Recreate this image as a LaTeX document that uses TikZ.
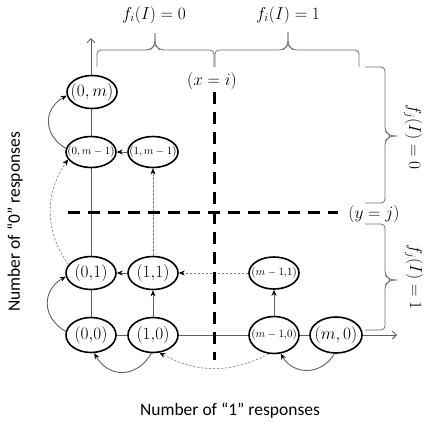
\documentclass[tikz,border=0pt]{standalone}
\usepackage{fontspec}
\newfontfamily\labelfont{Carlito}
\usetikzlibrary{shapes.geometric,arrows.meta,backgrounds}
\definecolor{linegray}{HTML}{5F5F5F}
\definecolor{dashgray}{HTML}{808080}
\definecolor{bracegray}{HTML}{6E6E6E}
\newcommand{\ctr}[1]{\makebox[0pt]{#1}}
\begin{document}
\begin{tikzpicture}[x=1pt,y=-1pt,
  state/.style={ellipse, draw=black, line width=1.6pt, fill=white, inner sep=0pt,
                minimum width=50pt, minimum height=33pt},
  bigtxt/.style={font=\fontsize{16}{18}\selectfont},
  smalltxt/.style={font=\fontsize{11}{13}\selectfont},
  conn/.style={draw=linegray, line width=0.9pt, -{Stealth[length=6pt,width=5pt,color=black]}},
  dconn/.style={draw=dashgray, line width=0.6pt, dash pattern=on 2.5pt off 1.5pt,
                -{Stealth[length=6pt,width=5pt,color=black]}},
  axisline/.style={draw=linegray, line width=0.9pt, -{Straight Barb[length=4pt,width=8pt]}},
  divider/.style={line width=3pt, dash pattern=on 12pt off 8pt},
  bracepath/.style={draw=bracegray, line width=0.8pt, rounded corners=4pt},
  mathlbl/.style={font=\fontsize{18}{20}\selectfont, inner sep=1pt},
  axislbl/.style={font=\labelfont\fontsize{17.5}{20}\selectfont, inner sep=1pt}]
\useasboundingbox (0,0) rectangle (427,426);

% states of the chain
\node[state,bigtxt]   (n0m)  at (92,92)   {\ctr{$(0,m)$}};
\node[state,smalltxt, minimum height=31pt] (n0m1) at (91,152) {\ctr{$(0,m-1)$}};
\node[state,smalltxt, minimum height=31pt] (n1m1) at (153,152) {\ctr{$(1,m-1)$}};
\node[state,bigtxt]   (n01)  at (91,273)  {\ctr{$(0{,}1)$}};
\node[state,bigtxt]   (n11)  at (153,273) {\ctr{$(1{,}1)$}};
\node[state,bigtxt, minimum height=35pt]   (n00)  at (91,335)  {\ctr{$(0{,}0)$}};
\node[state,bigtxt, minimum height=35pt]   (n10)  at (153,335) {\ctr{$(1{,}0)$}};
\node[state,smalltxt, minimum height=32pt] (nm11) at (274,273) {\ctr{$(m-1{,}1)$}};
\node[state,smalltxt, minimum height=37pt] (nm10) at (274,335) {\ctr{$(m-1{,}0)$}};
\node[state,bigtxt, minimum width=52pt, minimum height=36pt] (nm0) at (336,335) {\ctr{$(m,0)$}};

% axes ends
\coordinate (ytop) at (91,38);
\coordinate (xend) at (397,335);

\begin{pgfonlayer}{background}
  \draw[axisline] (n00.center) -- (ytop);
  \draw[axisline] (n00.center) -- (xend);
\end{pgfonlayer}

% transitions
\draw[conn] (n11) -- (n01);
\draw[conn] (n1m1) -- (n0m1);
\draw[conn] (n10) -- (n11);
\draw[conn] (nm10) -- (nm11);
\draw[dconn] (nm11) -- (n11);
\draw[dconn] (n11) -- (n1m1);
\draw[conn] (n00.172) to[bend left=60, looseness=1.3] (n01.188);
\draw[conn] (n0m1.172) to[bend left=60, looseness=1.3] (n0m.188);
\draw[dconn] (n01.160) to[bend left=35] (n0m1.198);
\draw[conn] (n10.265) to[bend left=60, looseness=1.3] (n00.280);
\draw[dconn] (nm10.255) to[bend left=28] (n10.290);
\draw[conn] (nm0.265) to[bend left=60, looseness=1.2] (nm10.290);

% threshold lines
\coordinate (vtop) at (214,92);
\coordinate (vbot) at (214,360);
\coordinate (hleft) at (68,212);
\coordinate (hright) at (338,212);
\draw[divider] (vtop) -- (vbot);
\draw[divider] (hleft) -- (hright);
\node[mathlbl, font=\fontsize{16}{18}\selectfont] (lxi) at (212,81) {$(x=i)$};
\node[mathlbl, font=\fontsize{16}{18}\selectfont] (lyj) at (374,214) {$(y=j)$};

% braces on top
\draw[bracepath] (97,67) -- (97,50) -- (150,50) -- (155,45) -- (155,33);
\draw[bracepath] (155,33) -- (155,45) -- (160,50) -- (214,50) -- (214,67);
\draw[bracepath] (215,67) -- (215,50) -- (283,50) -- (288,45) -- (288,32);
\draw[bracepath] (288,32) -- (288,45) -- (293,50) -- (359,50) -- (359,67);
\node[mathlbl] (lfi0) at (154,15) {$f_i(I) = 0$};
\node[mathlbl] (lfi1) at (288,15) {$f_i(I) = 1$};

% braces on the right
\draw[bracepath] (365,67) -- (385,67) -- (385,131) -- (390,136) -- (397,136);
\draw[bracepath] (397,136) -- (390,136) -- (385,141) -- (385,203) -- (365,203);
\draw[bracepath] (365,224) -- (385,224) -- (385,275) -- (390,280) -- (397,280);
\draw[bracepath] (397,280) -- (390,280) -- (385,285) -- (385,330) -- (365,330);
\node[mathlbl, rotate=-90] (lfj0) at (413,137) {$f_j(I) = 0$};
\node[mathlbl, rotate=-90] (lfj1) at (414,277) {$f_j(I) = 1$};

% axis titles
\node[axislbl, rotate=90] (ylab) at (15,222) {Number of “0” responses};
\node[axislbl] (xlab) at (230,411) {Number of “1” responses};
\end{tikzpicture}
\end{document}
